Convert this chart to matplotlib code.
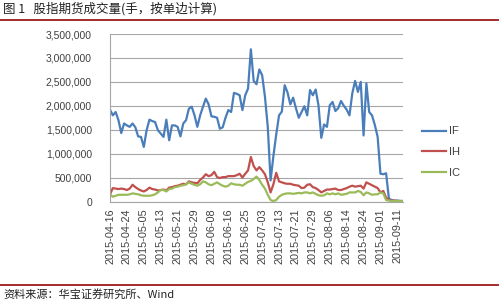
import matplotlib
matplotlib.use("Agg")
import matplotlib.pyplot as plt
from matplotlib.lines import Line2D
from matplotlib.ticker import FuncFormatter, MultipleLocator

plt.rcParams['font.family'] = ['Liberation Sans', 'Noto Sans CJK SC', 'DejaVu Sans']

# ---- data (daily volume, million lots, single side), trading days 2015-04-16 .. 2015-09-15 ----
tick_labels = ["2015-04-16", "2015-04-24", "2015-05-05", "2015-05-13", "2015-05-21",
               "2015-05-29", "2015-06-08", "2015-06-16", "2015-06-25", "2015-07-03",
               "2015-07-13", "2015-07-21", "2015-07-29", "2015-08-06", "2015-08-14",
               "2015-08-24", "2015-09-01", "2015-09-11"]

IF = [1.92, 1.80, 1.87, 1.70, 1.43, 1.63, 1.59, 1.56, 1.63, 1.55,
      1.36, 1.35, 1.14, 1.49, 1.71, 1.68, 1.66, 1.49, 1.42, 1.35,
      1.71, 1.28, 1.59, 1.59, 1.56, 1.36, 1.63, 1.70, 1.94, 1.98,
      1.80, 1.56, 1.80, 1.98, 2.15, 2.03, 1.78, 1.77, 1.75, 1.52,
      1.55, 1.75, 1.91, 1.87, 2.27, 2.25, 2.22, 1.91, 2.22, 2.36,
      3.18, 2.52, 2.45, 2.76, 2.64, 2.19, 1.56, 0.44, 0.95, 1.40,
      1.80, 1.88, 2.43, 2.28, 2.03, 2.17, 1.95, 1.75, 1.87, 1.99,
      1.80, 2.33, 2.22, 2.34, 2.01, 1.33, 1.61, 1.56, 2.01, 2.08,
      1.89, 1.95, 2.10, 2.00, 1.92, 1.80, 2.26, 2.52, 2.29, 2.50,
      1.38, 2.47, 1.87, 1.80, 1.60, 1.35, 0.58, 0.57, 0.59, 0.06,
      0.03, 0.02, 0.02, 0.01, 0.01]
IH = [0.15, 0.28, 0.27, 0.26, 0.27, 0.26, 0.24, 0.27, 0.35, 0.30,
      0.26, 0.23, 0.21, 0.24, 0.29, 0.26, 0.25, 0.23, 0.24, 0.25,
      0.23, 0.29, 0.30, 0.32, 0.33, 0.35, 0.37, 0.36, 0.42, 0.40,
      0.39, 0.38, 0.45, 0.50, 0.57, 0.53, 0.55, 0.62, 0.51, 0.49,
      0.51, 0.51, 0.53, 0.53, 0.53, 0.55, 0.58, 0.50, 0.58, 0.65,
      0.93, 0.74, 0.65, 0.72, 0.65, 0.57, 0.40, 0.19, 0.36, 0.60,
      0.42, 0.40, 0.38, 0.37, 0.37, 0.35, 0.34, 0.33, 0.28, 0.29,
      0.35, 0.36, 0.30, 0.28, 0.24, 0.19, 0.22, 0.25, 0.25, 0.26,
      0.27, 0.24, 0.24, 0.26, 0.28, 0.31, 0.33, 0.31, 0.32, 0.33,
      0.27, 0.40, 0.37, 0.34, 0.31, 0.28, 0.19, 0.22, 0.08, 0.03,
      0.02, 0.015, 0.01, 0.01, 0.01]
IC = [0.15, 0.10, 0.12, 0.14, 0.14, 0.14, 0.14, 0.15, 0.17, 0.16,
      0.15, 0.13, 0.12, 0.12, 0.12, 0.13, 0.15, 0.19, 0.24, 0.24,
      0.21, 0.26, 0.27, 0.30, 0.31, 0.33, 0.34, 0.36, 0.40, 0.37,
      0.35, 0.33, 0.36, 0.42, 0.40, 0.36, 0.34, 0.37, 0.40, 0.36,
      0.33, 0.31, 0.33, 0.38, 0.36, 0.35, 0.35, 0.33, 0.37, 0.41,
      0.43, 0.47, 0.52, 0.45, 0.35, 0.27, 0.14, 0.03, 0.01, 0.03,
      0.10, 0.14, 0.16, 0.17, 0.17, 0.16, 0.17, 0.18, 0.17, 0.19,
      0.19, 0.17, 0.19, 0.16, 0.13, 0.12, 0.13, 0.17, 0.15, 0.17,
      0.15, 0.17, 0.14, 0.15, 0.16, 0.19, 0.19, 0.19, 0.22, 0.20,
      0.13, 0.19, 0.17, 0.14, 0.15, 0.15, 0.19, 0.17, 0.03, 0.02,
      0.01, 0.01, 0.01, 0.01, 0.01]
series_names = ["IF", "IH", "IC"]
series_values = [IF, IH, IC]
colors = ["#4a7ebb", "#c0504d", "#9bbb59"]
tick_step = 6  # every 6th trading day is labelled

W, H = 499, 302
fig = plt.figure(figsize=(W / 100, H / 100), dpi=100)
fig.patch.set_facecolor("white")

ax = fig.add_axes([110 / W, 1 - 201.5 / H, 293 / W, 167.5 / H])
x = list(range(len(IF)))
handles = []
for name, vals, c in zip(series_names, series_values, colors):
    ln, = ax.plot(x, [v * 1e6 for v in vals], color=c, lw=1.6, label=name,
                  solid_joinstyle="round")
    handles.append(ln)

ax.set_xlim(0, len(IF) - 1)
ax.set_ylim(0, 3500000)
ax.yaxis.set_major_locator(MultipleLocator(500000))
ax.yaxis.set_major_formatter(FuncFormatter(lambda v, p: f"{int(v):,}"))
ax.grid(axis="y", color="#a6a6a6", lw=0.8)
ax.set_axisbelow(True)
for s in ["top", "right"]:
    ax.spines[s].set_visible(False)
for s in ["left", "bottom"]:
    ax.spines[s].set_color("#a6a6a6")
    ax.spines[s].set_linewidth(0.8)

ticks = [i * tick_step for i in range(len(tick_labels))]
ax.set_xticks(ticks)
ax.set_xticklabels(tick_labels, rotation=90, fontsize=7.8, color="#404040")
ax.tick_params(axis="x", length=0, pad=5)
ax.tick_params(axis="y", length=0, pad=13, labelsize=7.5, labelcolor="#404040")

leg = fig.legend(handles=handles, labels=series_names, loc="upper left",
                 bbox_to_anchor=(418 / W, 1 - 122 / H), frameon=False,
                 fontsize=8, handlelength=2.1, handletextpad=0.25,
                 labelspacing=0.95, borderaxespad=0)
for t in leg.get_texts():
    t.set_color("#404040")

# title and source with red rules
fig.text(3 / W, 1 - 9 / H, "图 1   股指期货成交量(手，按单边计算)",
         fontsize=9, ha="left", va="center",
         family=["Noto Sans CJK SC", "DejaVu Sans"], color="#222222")
fig.add_artist(Line2D([0, 1], [1 - 19.5 / H] * 2, color="#9e1b1b", lw=1.3,
                      transform=fig.transFigure))
fig.add_artist(Line2D([0, 1], [1 - 285 / H] * 2, color="#9e1b1b", lw=1.3,
                      transform=fig.transFigure))
fig.text(3 / W, 1 - 294 / H, "资料来源：华宝证券研究所、Wind",
         fontsize=8, ha="left", va="center",
         family=["Noto Sans CJK SC", "DejaVu Sans"], color="#222222")

fig.savefig("out.png", dpi=100, facecolor="white")
